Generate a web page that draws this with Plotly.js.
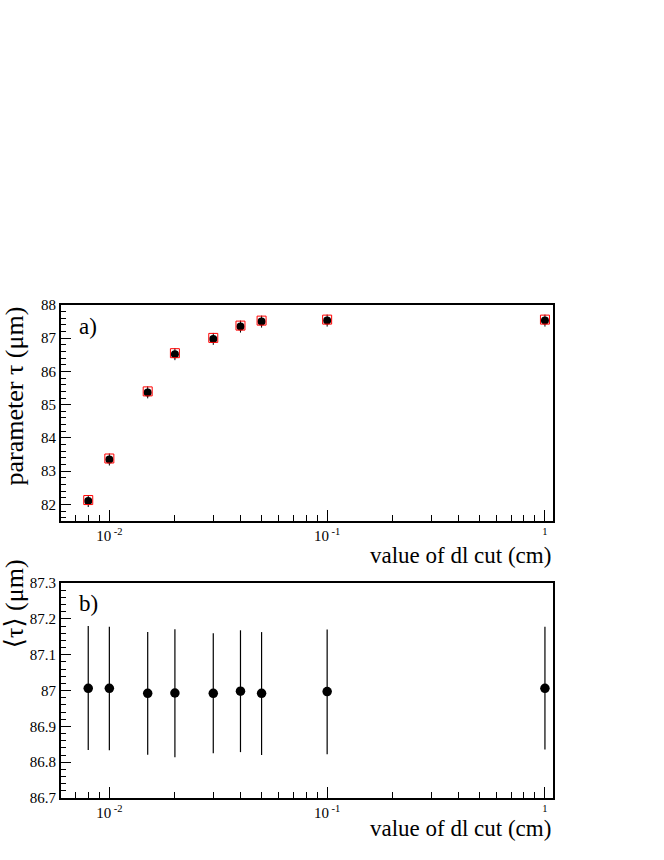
<!DOCTYPE html>
<html>
<head>
<meta charset="utf-8">
<script src="https://cdn.plot.ly/plotly-3.0.1.min.js"></script>
<style>
  body { margin: 0; background: #fff; }
  #chart { width: 664px; height: 860px; }
  #chart text { font-family: 'Liberation Serif', 'DejaVu Serif', serif !important; }
</style>
</head>
<body>
<div id="chart"></div>
<script>
// dl cut values (cm)
var dlCut = [0.008, 0.01, 0.015, 0.02, 0.03, 0.04, 0.05, 0.1, 1.0];

// panel a) fitted parameter tau (um)
var tauFit = [82.10, 83.35, 85.37, 86.52, 86.98, 87.35, 87.50, 87.53, 87.53];
var tauFitErr = [0.18, 0.18, 0.18, 0.18, 0.18, 0.18, 0.18, 0.18, 0.18];
var tauRef = [82.13, 83.38, 85.40, 86.55, 87.01, 87.38, 87.53, 87.56, 87.56];

// panel b) mean tau (um) with asymmetric errors
var tauMean = [87.006, 87.006, 86.992, 86.993, 86.992, 86.998, 86.992, 86.997, 87.006];
var tauMeanUp = [0.174, 0.172, 0.171, 0.178, 0.168, 0.170, 0.171, 0.173, 0.172];
var tauMeanDown = [0.172, 0.173, 0.171, 0.179, 0.167, 0.170, 0.172, 0.175, 0.171];

var xTickVals = [0.01, 0.1, 1];
var xTickText = ['10<sup> -2</sup>', '10<sup> -1</sup>', '<sup>1</sup>'];

var serif = 'Liberation Serif';

var traces = [
  {
    x: dlCut, y: tauFit, xaxis: 'x', yaxis: 'y',
    mode: 'markers', type: 'scatter',
    error_y: {type: 'data', array: tauFitErr, width: 0, thickness: 1, color: '#000'},
    marker: {symbol: 'circle', size: 8, color: '#000'}
  },
  {
    x: dlCut, y: tauRef, xaxis: 'x', yaxis: 'y',
    mode: 'markers', type: 'scatter',
    marker: {symbol: 'square-open', size: 9, color: '#ff0000', line: {width: 1, color: '#ff0000'}}
  },
  {
    x: dlCut, y: tauMean, xaxis: 'x2', yaxis: 'y2',
    mode: 'markers', type: 'scatter',
    error_y: {type: 'data', symmetric: false, array: tauMeanUp, arrayminus: tauMeanDown,
              width: 0, thickness: 1.2, color: '#000'},
    marker: {symbol: 'circle', size: 9.5, color: '#000'}
  }
];

function xAxis(anchor) {
  return {
    type: 'log', range: [-2.222, 0.037], anchor: anchor,
    tickvals: xTickVals, ticktext: xTickText,
    ticks: 'inside', ticklen: 11, tickwidth: 1, tickcolor: '#000',
    minor: {ticks: 'inside', ticklen: 6, tickcolor: '#000', tickwidth: 1,
            tickvals: [0.007, 0.008, 0.009, 0.02, 0.03, 0.04, 0.05, 0.06, 0.07, 0.08, 0.09,
                       0.2, 0.3, 0.4, 0.5, 0.6, 0.7, 0.8, 0.9]},
    showline: true, linewidth: 2, linecolor: '#000', mirror: true,
    showgrid: false, zeroline: false,
    tickfont: {family: serif, size: 15, color: '#000'}
  };
}

function yAxis(anchor, domain, range, dtick, minorDtick) {
  return {
    domain: domain, range: range, anchor: anchor, dtick: dtick,
    ticks: 'inside', ticklen: 10, tickwidth: 1, tickcolor: '#000',
    minor: {ticks: 'inside', ticklen: 5, tickcolor: '#000', tickwidth: 1, dtick: minorDtick},
    showline: true, linewidth: 2, linecolor: '#000', mirror: true,
    showgrid: false, zeroline: false,
    tickfont: {family: serif, size: 15, color: '#000'}
  };
}

var layout = {
  width: 664, height: 860,
  margin: {l: 61, r: 111, t: 305, b: 62},
  paper_bgcolor: '#fff', plot_bgcolor: '#fff',
  showlegend: false,
  font: {family: serif},
  xaxis: xAxis('y'),
  yaxis: yAxis('x', [0.5619, 1], [81.5, 88], 1, 0.2),
  xaxis2: xAxis('y2'),
  yaxis2: yAxis('x2', [0, 0.4361], [86.7, 87.3], 0.1, 0.02),
  annotations: [
    {text: 'parameter \u03c4 (\u03bcm)', textangle: -90, xref: 'paper', yref: 'paper',
     x: -0.0955, y: 1.0, xanchor: 'center', yanchor: 'top', showarrow: false,
     font: {family: serif, size: 26, color: '#000'}},
    {text: '\u27e8\u03c4\u27e9 (\u03bcm)', textangle: -90, xref: 'paper', yref: 'paper',
     x: -0.0955, y: 0.4868, xanchor: 'center', yanchor: 'top', showarrow: false,
     font: {family: serif, size: 26, color: '#000'}},
    {text: 'value of dl cut (cm)', xref: 'paper', yref: 'paper',
     x: 1.0, y: 0.491, xanchor: 'right', yanchor: 'middle', showarrow: false,
     font: {family: serif, size: 23, color: '#000'}},
    {text: 'value of dl cut (cm)', xref: 'paper', yref: 'paper',
     x: 1.0, y: -0.0609, xanchor: 'right', yanchor: 'middle', showarrow: false,
     font: {family: serif, size: 23, color: '#000'}},
    {text: 'a)', xref: 'paper', yref: 'paper',
     x: 0.0325, y: 0.957, xanchor: 'left', yanchor: 'middle', showarrow: false,
     font: {family: serif, size: 23, color: '#000'}},
    {text: 'b)', xref: 'paper', yref: 'paper',
     x: 0.0325, y: 0.3955, xanchor: 'left', yanchor: 'middle', showarrow: false,
     font: {family: serif, size: 23, color: '#000'}}
  ]
};

Plotly.newPlot('chart', traces, layout, {displayModeBar: false, staticPlot: true});
</script>
</body>
</html>
